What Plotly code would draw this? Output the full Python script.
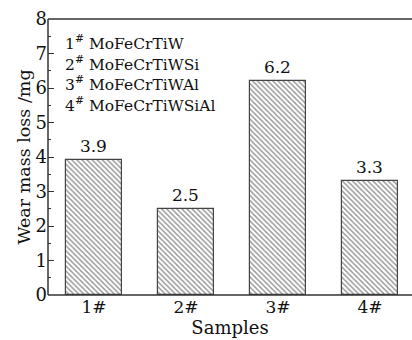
import plotly.graph_objects as go

categories = ["1#", "2#", "3#", "4#"]
wear_loss = [3.9, 2.5, 6.2, 3.3]
legend_lines = ["1<sup>#</sup> MoFeCrTiW", "2<sup>#</sup> MoFeCrTiWSi",
                "3<sup>#</sup> MoFeCrTiWAl", "4<sup>#</sup> MoFeCrTiWSiAl"]
y_ticks = [0, 1, 2, 3, 4, 5, 6, 7, 8]

FONT = "DejaVu Serif"
AX = "#333333"
xpos = list(range(1, len(categories) + 1))

fig = go.Figure()
fig.add_trace(go.Bar(
    x=xpos, y=wear_loss, width=0.61,
    marker=dict(color="white",
                line=dict(color="#444444", width=1.2),
                pattern=dict(shape="\\", fgcolor="#333333", bgcolor="white",
                             size=3.6, solidity=0.4)),
    text=[f"{v:.1f}" for v in wear_loss], textposition="outside",
    textfont=dict(family=FONT, size=17, color="#111111"),
    cliponaxis=False, showlegend=False,
))

for i, t in enumerate(legend_lines):
    fig.add_annotation(x=0.04, xref="paper", y=0.915 - i * 0.0745, yref="paper",
                       text=t, showarrow=False, xanchor="left", yanchor="middle",
                       font=dict(family=FONT, size=15.5, color="#111111"))

# frame lines: left, bottom, top (open on the right like the reference)
for x0, x1, y0, y1 in [(0, 0, 0, 1), (0, 1, 0, 0), (0, 1, 1, 1)]:
    fig.add_shape(type="line", xref="paper", yref="paper",
                  x0=x0, x1=x1, y0=y0, y1=y1,
                  line=dict(color=AX, width=1.5), layer="above")

fig.update_layout(
    width=412, height=340,
    margin=dict(l=48, r=0, t=19, b=45),
    paper_bgcolor="white", plot_bgcolor="white",
    font=dict(family=FONT, color="#111111"),
    bargap=0,
)
fig.update_xaxes(
    range=[0.5, 0.5 + 364 / 92], tickvals=xpos, ticktext=categories,
    showline=False, mirror=False, linecolor="white",
    ticks="", showgrid=False, zeroline=False, showspikes=False,
    tickfont=dict(family=FONT, size=17),
    title=dict(text="Samples", font=dict(family=FONT, size=18), standoff=0),
)
fig.update_yaxes(
    range=[0, 8], tickvals=y_ticks,
    showline=False, mirror=False, linecolor="white",
    ticks="inside", ticklen=6, tickwidth=1.2, tickcolor=AX,
    minor=dict(dtick=0.5, ticks="inside", ticklen=3, tickcolor=AX, tickwidth=1,
               showgrid=False),
    showgrid=False, zeroline=False, showspikes=False,
    tickfont=dict(family=FONT, size=18),
    title=dict(text="Wear mass loss /mg", font=dict(family=FONT, size=17.5), standoff=0),
)

fig.write_html("out.html")
